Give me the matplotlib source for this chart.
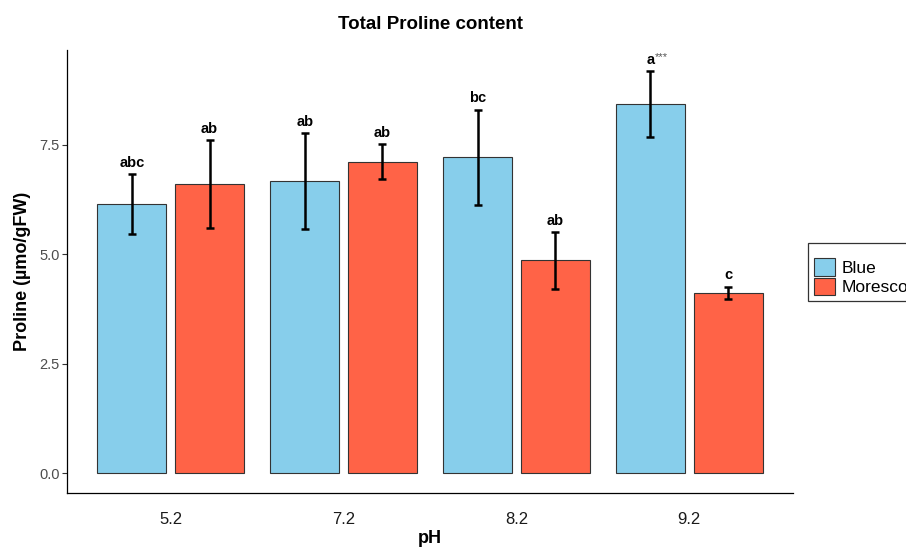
import matplotlib
matplotlib.use("Agg")
import matplotlib.pyplot as plt
import numpy as np

plt.rcParams['font.family'] = ['Liberation Sans', 'DejaVu Sans']

ph_levels = ["5.2", "7.2", "8.2", "9.2"]
series_names = ["Blue", "Moresco"]
blue_mean = [6.15, 6.68, 7.22, 8.43]
blue_sd = [0.69, 1.10, 1.09, 0.75]
moresco_mean = [6.61, 7.12, 4.86, 4.12]
moresco_sd = [1.00, 0.39, 0.65, 0.14]
blue_letters = ["abc", "ab", "bc", "a"]
moresco_letters = ["ab", "ab", "ab", "c"]
blue_stars = ["", "", "", "***"]

colors = {"Blue": "#87CEEB", "Moresco": "#FF6347"}

fig = plt.figure(figsize=(9.06, 5.49), dpi=100)
ax = fig.add_axes([0.0740, 0.1020, 0.8013, 0.8069])

x = np.arange(1, len(ph_levels) + 1)
w = 0.40
off = 0.225

handles = []
for means, sds, name, sign, letters in [
    (blue_mean, blue_sd, "Blue", -1, blue_letters),
    (moresco_mean, moresco_sd, "Moresco", 1, moresco_letters),
]:
    xs = x + sign * off
    b = ax.bar(xs, means, width=w, color=colors[name], edgecolor="#333333",
               linewidth=0.8, label=name, zorder=2)
    handles.append(b)
    ax.errorbar(xs, means, yerr=sds, fmt="none", ecolor="black",
                elinewidth=1.8, capsize=3.2, capthick=1.8, zorder=3)
    for i, (xi, m, s, lab) in enumerate(zip(xs, means, sds, letters)):
        ax.annotate(lab, (xi, m + s), xytext=(0, 3), textcoords="offset points",
                    ha="center", va="bottom", fontsize=10.5, fontweight="bold",
                    color="black", zorder=4)
        if name == "Blue" and blue_stars[i]:
            ax.annotate(blue_stars[i], (xi, m + s), xytext=(3, 6.5),
                        textcoords="offset points", ha="left", va="bottom",
                        fontsize=8, color="#555555", zorder=4)

ax.set_xlim(0.4, 4.6)
ax.set_ylim(-0.457, 9.67)
ax.set_yticks([0.0, 2.5, 5.0, 7.5])
ax.set_yticklabels(["0.0", "2.5", "5.0", "7.5"])
ax.set_xticks(x)
ax.set_xticklabels(ph_levels)
ax.tick_params(axis="y", labelsize=10.5, labelcolor="#4D4D4D", color="#333333",
               length=3.5, width=0.8, pad=2)
ax.tick_params(axis="x", labelsize=12, labelcolor="#1A1A1A", length=0, pad=14)

for sp in ["top", "right"]:
    ax.spines[sp].set_visible(False)
for sp in ["left", "bottom"]:
    ax.spines[sp].set_linewidth(0.9)
    ax.spines[sp].set_color("black")

ax.set_xlabel("pH", fontsize=13, fontweight="bold", labelpad=2)
ax.set_ylabel("Proline (µmo/gFW)", fontsize=13, fontweight="bold", labelpad=6)
ax.set_title("Total Proline content", fontsize=13.5, fontweight="bold", pad=15)

leg = fig.legend(handles=handles, labels=series_names, loc="upper left",
                 bbox_to_anchor=(0.892, 0.557), borderaxespad=0.0,
                 frameon=True, fontsize=12.5, title=" ", title_fontsize=5,
                 handlelength=1.2, handleheight=1.2, handletextpad=0.4,
                 borderpad=0.35, labelspacing=0.1, fancybox=False)
leg.get_frame().set_edgecolor("black")
leg.get_frame().set_linewidth(0.9)

fig.savefig("out.png", dpi=100)
